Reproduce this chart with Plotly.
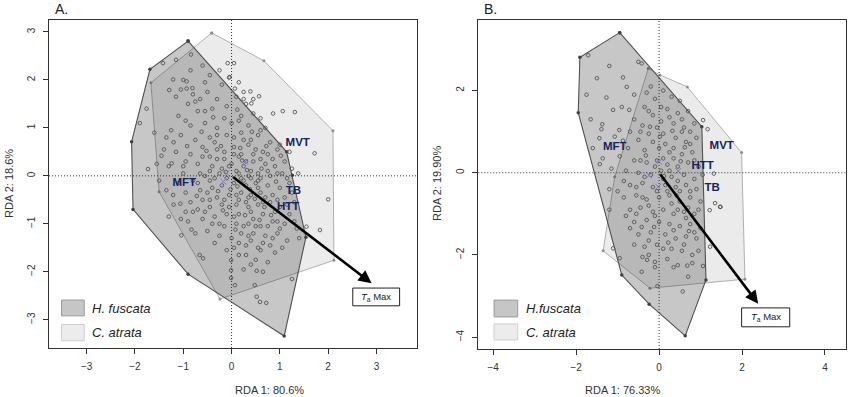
import plotly.graph_objects as go

# ---------------- DATA ----------------
# Panel A hulls (RDA1, RDA2)
hf_hull_a_x = [-0.90, -1.69, -2.07, -2.04, -0.90, 1.09, 1.54, 1.26, 1.14, -0.90]
hf_hull_a_y = [2.81, 2.22, 0.71, -0.70, -2.05, -3.34, -1.28, 0.01, 0.50, 2.81]
ca_hull_a_x = [-0.41, 0.67, 2.10, 2.12, -0.24, -1.50, -1.67, -0.41]
ca_hull_a_y = [2.98, 2.40, 0.94, -1.76, -2.57, -0.33, 1.94, 2.98]

# Panel B hulls
hf_hull_b_x = [-0.95, -1.91, -1.95, -0.90, -0.24, 0.63, 1.13, 1.03, -0.95]
hf_hull_b_y = [3.41, 2.81, 1.46, -2.49, -3.20, -3.97, -2.61, 1.12, 3.41]
ca_hull_b_x = [-0.26, 0.02, 0.68, 1.99, 2.07, -0.22, -1.35, -1.07, -0.26]
ca_hull_b_y = [2.54, 2.38, 2.09, 0.49, -2.59, -2.81, -1.90, -0.10, 2.54]

# Panel A individual scores
pts_a = [
    (-0.08, 2.35), (0.05, 2.35), (-0.04, 2.06), (0.07, 1.82), (0.39, 1.76), (0.57, 1.66),
    (0.41, 1.51), (0.86, 1.30), (1.06, 1.35), (1.31, 1.33), (1.72, 0.47), (1.38, 0.05),
    (2.0, -0.49), (1.55, -1.06), (1.83, -1.13), (0.52, -2.52), (0.59, -2.63), (0.72, -2.65),
    (1.25, -2.15), (0.52, -1.98), (0.48, -2.28), (-0.01, -1.76), (-0.01, -1.97), (-0.01, -2.13),
    (-1.04, -1.24), (-0.66, -1.65), (-0.59, -1.72), (0.07, -2.28), (-1.90, 1.10), (-1.76, 1.40),
    (-1.73, 0.14), (-1.42, 2.35), (-1.15, 2.42), (-0.84, 2.53), (-1.21, 2.01), (-1.29, 1.79),
    (-0.93, 1.97), (-0.93, 1.82), (-0.81, 1.83), (-1.45, 0.42), (-1.24, 0.26), (-1.21, -0.40),
    (-1.06, -0.58), (-0.83, -1.12),
    (-1.0, 2.0), (-0.6, 2.3), (-0.45, 2.1), (-0.2, 1.9), (-0.5, 1.75), (-0.3, 1.6), (-0.9, 1.5),
    (-0.7, 1.35), (-0.4, 1.4), (-0.1, 1.45), (0.1, 1.65), (0.3, 1.5), (0.45, 1.3), (0.6, 1.2),
    (0.2, 1.25), (-0.15, 1.2), (-0.55, 1.1), (-1.1, 1.25), (-0.85, 1.05), (-0.3, 1.0), (0.0, 1.1),
    (0.35, 1.05), (0.7, 1.0), (0.55, 0.85), (0.2, 0.9), (-0.1, 0.85), (-0.45, 0.8), (-0.75, 0.75),
    (-1.05, 0.85), (-1.25, 0.95), (-0.6, 0.6), (-0.3, 0.55), (0.05, 0.6), (0.35, 0.65), (0.8, 0.7),
    (0.95, 0.55), (0.65, 0.5), (0.15, 0.4), (-0.15, 0.35), (-0.45, 0.4), (-0.85, 0.45), (-1.15, 0.5),
    (-1.3, 0.2), (-1.0, 0.2), (-0.7, 0.25), (-0.4, 0.2), (-0.2, 0.15), (0.0, 0.25), (0.25, 0.2),
    (0.45, 0.3), (0.7, 0.25), (0.9, 0.2), (1.1, 0.3), (1.05, 0.05), (0.8, 0.0), (0.55, 0.05),
    (0.35, 0.0), (0.15, 0.05), (-0.1, -0.05), (-0.35, -0.05), (-0.55, 0.0), (-0.8, -0.1),
    (-1.1, -0.15), (-0.95, -0.35), (-0.65, -0.3), (-0.4, -0.25), (-0.2, -0.2), (0.05, -0.15),
    (0.3, -0.2), (0.5, -0.15), (0.75, -0.2), (1.0, -0.25), (1.2, -0.15), (1.1, -0.45), (0.85, -0.4),
    (0.6, -0.35), (0.4, -0.4), (0.2, -0.35), (-0.05, -0.4), (-0.3, -0.45), (-0.6, -0.5),
    (-0.85, -0.55), (-1.2, -0.6), (-0.95, -0.75), (-0.7, -0.7), (-0.45, -0.65), (-0.2, -0.6),
    (0.1, -0.6), (0.3, -0.55), (0.55, -0.6), (0.8, -0.55), (1.0, -0.65), (1.3, -0.55), (1.2, -0.8),
    (0.9, -0.75), (0.65, -0.8), (0.4, -0.75), (0.15, -0.8), (-0.1, -0.8), (-0.35, -0.85),
    (-0.6, -0.9), (-0.9, -0.95), (-0.4, -1.0), (-0.15, -1.05), (0.1, -1.0), (0.35, -1.0),
    (0.6, -1.05), (0.85, -0.95), (1.1, -1.0), (1.35, -1.1), (0.95, -1.2), (0.7, -1.25), (0.45, -1.2),
    (0.2, -1.2), (0.0, -1.3), (-0.25, -1.25), (-0.5, -1.15), (0.3, -1.45), (0.55, -1.5), (0.8, -1.45),
    (0.6, -1.55), (0.9, -1.6), (0.5, -1.75), (0.75, -1.8), (0.3, -1.65), (0.05, -1.5), (1.15, -1.35),
    (1.4, -1.3), (0.45, -0.9), (0.25, -0.1), (0.1, 0.1), (-0.05, 0.2), (0.2, -0.05), (0.4, 0.1),
    (0.6, -0.05), (0.3, 0.3), (-0.25, 0.05), (0.55, -0.25), (0.05, 0.45), (0.25, 0.75), (-0.35, 0.7),
    (0.5, 0.55), (0.85, 0.35), (-0.65, 0.05), (0.7, -0.45), (0.15, -0.5), (-0.5, -0.35), (1.25, 0.15),
    (-1.35, -0.3), (-1.4, 0.55), (-0.8, 1.7), (-0.05, 2.05),
    (0.12, -0.22), (-0.12, 0.08), (0.38, -0.28), (0.62, 0.15), (-0.28, -0.32), (0.48, -0.48),
    (0.18, 0.58), (-0.52, 0.52), (0.72, 0.62), (-0.72, -0.42), (0.92, -0.12), (0.28, -0.82),
    (-0.18, -0.72), (0.58, -0.92), (0.08, -1.12), (-0.38, 1.22), (0.12, 1.38), (-0.62, 0.92),
    (0.42, 0.92), (-0.92, 0.62), (1.02, 0.42), (-0.22, 0.62), (0.82, -0.82), (0.32, 0.12),
    (-0.02, -0.28), (0.22, 0.32), (-0.45, 0.1), (0.68, -0.65), (1.15, -0.6), (-1.0, 0.05),
    (-0.95, 1.15), (-0.75, 1.55), (-0.55, 1.95), (-0.25, 2.2), (0.15, 1.95), (0.25, 1.75),
    (-0.65, 1.6), (-1.15, 1.65), (-1.2, 0.7), (-1.35, 0.8), (-0.95, 0.3), (-0.6, 0.4),
    (-0.15, 0.5), (0.45, 0.45), (0.75, 0.45), (1.0, 0.65), (1.2, 0.5), (1.15, -0.05),
    (0.95, -0.5), (1.25, -0.35), (1.3, -0.95), (1.05, -1.5), (0.85, -1.3), (0.4, -1.35),
    (0.15, -1.4), (-0.1, -1.55), (-0.35, -1.4), (-0.75, -1.2), (-0.8, -0.75), (-1.05, -0.9),
    (-1.3, -0.85), (-1.5, -0.1), (-1.55, 0.25), (-1.6, 0.9), (-0.45, -0.5), (-0.05, -0.65),
    (0.35, -0.65), (0.65, -0.55), (0.5, -1.05), (0.25, -1.05), (-0.25, -1.0), (0.75, -1.05),
    (0.95, -0.95), (0.1, -0.4), (0.35, -0.45), (-0.15, -0.5), (0.05, 0.8), (0.4, 0.75),
    (-0.3, 0.85), (0.6, 0.95), (0.15, 1.15), (-0.55, 1.35), (0.25, 1.6), (0.45, 1.6),
    (-0.85, 2.2), (-1.05, 1.8), (0.55, -0.1), (0.75, 0.1), (0.95, 0.05), (-0.7, -0.15),
    (-0.3, 0.35), (0.6, 0.35), (0.4, -0.05), (0.2, 0.45), (-0.45, -0.1), (0.05, -0.85),
    (-0.55, -0.75), (0.35, -1.25), (0.65, -1.4), (1.0, -1.1), (0.15, -1.65), (0.4, -1.85),
    (0.65, -2.0), (0.25, -1.95),
]
pts_a_x = [p[0] for p in pts_a]
pts_a_y = [p[1] for p in pts_a]

# Panel B individual scores
pts_b = [
    (-1.71, 2.86), (-0.87, 2.32), (-0.78, 2.09), (-1.27, 1.83), (-1.11, 1.53), (-0.72, 1.53),
    (-1.65, 1.30), (-1.37, 1.18), (-1.39, 1.06), (-0.96, 1.04), (-1.44, 0.84), (-1.07, 0.88),
    (-0.87, 0.78), (-1.36, 0.35), (-1.43, 0.21), (-0.50, 2.70), (-0.42, 2.66),
    (-1.11, -1.84), (-0.95, -2.08), (-0.42, -2.41), (-0.10, -2.17), (-0.29, -2.12), (0.57, -2.89),
    (0.70, -2.53), (0.68, -2.26), (1.06, -2.27), (-0.04, -2.76), (1.23, -1.80), (1.35, -0.74),
    (1.48, -0.83), (1.06, 1.28), (1.17, 1.06), (1.32, -0.02), (1.22, -0.91), (1.47, -0.83),
    (-0.2, 2.1), (0.1, 2.0), (0.3, 1.85), (-0.1, 1.8), (0.5, 1.75), (-0.35, 1.6), (0.2, 1.55),
    (0.45, 1.45), (0.7, 1.5), (-0.15, 1.4), (0.05, 1.25), (0.35, 1.2), (0.6, 1.1), (0.85, 1.2),
    (-0.4, 1.15), (-0.6, 1.3), (-0.25, 0.95), (0.1, 0.95), (0.4, 0.85), (0.65, 0.75), (0.9, 0.85),
    (-0.5, 0.8), (-0.75, 0.6), (-0.35, 0.55), (0.0, 0.6), (0.25, 0.5), (0.55, 0.45), (0.8, 0.5),
    (-0.6, 0.3), (-0.3, 0.25), (-0.05, 0.3), (0.2, 0.2), (0.45, 0.15), (0.7, 0.25), (0.95, 0.15),
    (-0.8, 0.05), (-0.5, 0.0), (-0.2, -0.05), (0.05, 0.05), (0.3, -0.1), (0.6, -0.05), (0.85, -0.15),
    (1.05, -0.05), (-0.7, -0.3), (-0.4, -0.25), (-0.15, -0.35), (0.15, -0.3), (0.4, -0.35),
    (0.65, -0.3), (0.9, -0.4), (-0.85, -0.6), (-0.55, -0.55), (-0.3, -0.65), (0.0, -0.6),
    (0.25, -0.55), (0.5, -0.7), (0.75, -0.6), (1.0, -0.7), (-0.7, -0.9), (-0.45, -0.85),
    (-0.15, -0.95), (0.1, -0.9), (0.35, -1.0), (0.6, -0.95), (0.85, -1.0), (-0.6, -1.2),
    (-0.3, -1.15), (0.0, -1.2), (0.25, -1.25), (0.5, -1.3), (0.75, -1.25), (1.0, -1.35),
    (-0.5, -1.5), (-0.2, -1.45), (0.15, -1.5), (0.4, -1.6), (0.65, -1.55), (0.9, -1.6),
    (-0.35, -1.8), (-0.05, -1.75), (0.3, -1.85), (0.55, -1.9), (0.8, -2.0), (-0.4, -2.05),
    (-0.1, -2.3), (0.2, -2.1), (0.45, -2.25), (0.8, -2.2), (-0.55, -1.0), (0.1, -0.15),
    (-0.1, 0.15), (0.35, 0.35), (0.15, 0.7), (-0.45, 1.0), (-0.7, 1.0), (0.55, 1.0), (0.05, 1.6),
    (-0.3, 1.95), (0.25, 0.05), (-0.05, -0.45), (0.5, -0.45), (0.7, -0.85), (-0.25, -0.8),
    (0.3, -0.75), (-0.85, -0.2), (-0.95, 0.4), (-1.0, -0.45), (-1.15, 0.1),
    (0.12, -0.08), (-0.32, 0.42), (0.42, -0.55), (0.62, 0.62), (-0.12, -1.32), (0.22, -1.7),
    (0.72, -1.42), (-0.42, -1.32), (0.02, 0.88), (0.32, 1.02), (-0.22, 1.12), (0.52, 0.28),
    (-0.25, 1.5), (0.25, 1.35), (0.55, 1.3), (-0.05, 1.1), (0.75, 1.0), (-0.15, 0.75),
    (0.35, 0.6), (0.75, 0.7), (-0.45, 0.3), (0.1, 0.35), (0.85, 0.3), (-0.35, -0.1),
    (0.45, -0.2), (0.75, -0.45), (-0.55, -0.35), (0.2, -0.45), (0.95, -0.9), (-0.4, -0.6),
    (0.45, -0.9), (-0.1, -1.05), (0.65, -1.1), (-0.7, -1.35), (0.35, -1.4), (0.85, -1.45),
    (-0.25, -1.65), (0.1, -1.85), (0.6, -1.75), (-0.6, -1.75), (0.35, -2.3), (-0.25, -2.0),
    (0.95, -1.9), (-0.8, -1.05), (-1.2, -0.4), (-1.2, -0.9), (-1.6, 0.6), (-1.75, 1.9),
    (-1.5, 2.3), (-1.2, 2.6), (-0.6, 1.9), (-0.9, 1.6),
]
pts_b_x = [p[0] for p in pts_b]
pts_b_y = [p[1] for p in pts_b]

# Group centroids (blue crosses)
cent_a_x = [-0.10, 0.28, -0.17]
cent_a_y = [0.05, 0.29, -0.12]
cent_b_x = [0.00, -0.24, 0.46, -0.02]
cent_b_y = [0.27, -0.06, 0.04, -0.34]

# Response variable labels
labels = ["MVT", "MFT", "TB", "HTT"]
lab_a_x = [1.37, -0.98, 1.28, 1.17]
lab_a_y = [0.675, -0.15, -0.32, -0.65]
lab_b_x = [1.51, -1.07, 1.28, 1.05]
lab_b_y = [0.65, 0.63, -0.38, 0.15]

# Environmental arrow (Ta Max)
arrow_a = (2.90, -2.24)
arrow_b = (2.39, -3.19)

x_ticks_a = [-3, -2, -1, 0, 1, 2, 3]
y_ticks_a = [-3, -2, -1, 0, 1, 2, 3]
x_ticks_b = [-4, -2, 0, 2, 4]
y_ticks_b = [-4, -2, 0, 2]

# ---------------- FIGURE ----------------
FONT = "Liberation Sans, Arial, sans-serif"
DARK_FILL = "rgba(30,30,30,0.25)"
LIGHT_FILL = "#ebebeb"
LABEL_COL = "#16235e"

fig = go.Figure()

def add_panel(xa, ya, hf_x, hf_y, ca_x, ca_y, px, py, cx, cy):
    fig.add_trace(go.Scatter(x=ca_x, y=ca_y, xaxis=xa, yaxis=ya, mode="lines+markers",
                             fill="toself", fillcolor=LIGHT_FILL,
                             line=dict(color="#b0b0b0", width=1),
                             marker=dict(size=3, color="#909090"),
                             showlegend=False, hoverinfo="skip"))
    fig.add_trace(go.Scatter(x=hf_x, y=hf_y, xaxis=xa, yaxis=ya, mode="lines+markers",
                             fill="toself", fillcolor=DARK_FILL,
                             line=dict(color="#505050", width=1.1),
                             marker=dict(size=3.5, color="#404040"),
                             showlegend=False, hoverinfo="skip"))
    fig.add_trace(go.Scatter(x=px, y=py, xaxis=xa, yaxis=ya, mode="markers",
                             marker=dict(symbol="circle-open", size=3.6, color="#555555",
                                         line=dict(width=0.9)),
                             showlegend=False))
    fig.add_trace(go.Scatter(x=cx, y=cy, xaxis=xa, yaxis=ya, mode="markers",
                             marker=dict(symbol="x-thin-open", size=6, color="#7b7fc0",
                                         line=dict(width=1, color="#7b7fc0")),
                             showlegend=False))

add_panel("x", "y", hf_hull_a_x, hf_hull_a_y, ca_hull_a_x, ca_hull_a_y,
          pts_a_x, pts_a_y, cent_a_x, cent_a_y)
add_panel("x2", "y2", hf_hull_b_x, hf_hull_b_y, ca_hull_b_x, ca_hull_b_y,
          pts_b_x, pts_b_y, cent_b_x, cent_b_y)

# text labels
fig.add_trace(go.Scatter(x=lab_a_x, y=lab_a_y, xaxis="x", yaxis="y", mode="text", text=labels,
                         textfont=dict(family=FONT, size=11.5, color=LABEL_COL, weight="bold"),
                         showlegend=False))
fig.add_trace(go.Scatter(x=lab_b_x, y=lab_b_y, xaxis="x2", yaxis="y2", mode="text", text=labels,
                         textfont=dict(family=FONT, size=11.5, color=LABEL_COL, weight="bold"),
                         showlegend=False))

axis_common = dict(showgrid=False, zeroline=False, showline=True, mirror=True,
                   linecolor="#333333", linewidth=1.3, ticks="outside", ticklen=5,
                   tickcolor="#333333", tickfont=dict(family=FONT, size=10, color="#333333"),
                   ticklabelstandoff=4, automargin=False)

fig.update_layout(
    template="none",
    width=850, height=397, margin=dict(l=0, r=0, t=0, b=0, autoexpand=False),
    plot_bgcolor="white", paper_bgcolor="white",
    xaxis=dict(domain=[49/850, 417/850], range=[-3.78, 3.84], tickvals=x_ticks_a,
               anchor="y", **axis_common),
    yaxis=dict(domain=[1-348/397, 1-19.5/397], range=[-3.59, 3.26], tickvals=y_ticks_a,
               tickangle=-90, anchor="x", **axis_common),
    xaxis2=dict(domain=[478.3/850, 845.7/850], range=[-4.36, 4.50], tickvals=x_ticks_b,
                anchor="y2", **axis_common),
    yaxis2=dict(domain=[1-349/397, 1-19.5/397], range=[-4.29, 3.73], tickvals=y_ticks_b,
                tickangle=-90, anchor="x2", **axis_common),
)

shapes = []
for xr, yr in (("x", "y"), ("x2", "y2")):
    shapes.append(dict(type="line", xref=f"{xr} domain", x0=0, x1=1, yref=yr, y0=0, y1=0,
                       line=dict(color="#333333", width=1, dash="1px,2px"), layer="above"))
    shapes.append(dict(type="line", yref=f"{yr} domain", y0=0, y1=1, xref=xr, x0=0, x1=0,
                       line=dict(color="#333333", width=1, dash="1px,2px"), layer="above"))

# legend boxes (data coordinates of each panel)
shapes += [
    dict(type="rect", xref="x", yref="y", x0=-3.52, x1=-3.05, y0=-2.92, y1=-2.59,
         fillcolor="#c6c6c6", line=dict(color="#9a9a9a", width=1)),
    dict(type="rect", xref="x", yref="y", x0=-3.52, x1=-3.05, y0=-3.44, y1=-3.10,
         fillcolor="#ececec", line=dict(color="#cfcfcf", width=1)),
    dict(type="rect", xref="x2", yref="y2", x0=-3.98, x1=-3.41, y0=-3.51, y1=-3.10,
         fillcolor="#c6c6c6", line=dict(color="#9a9a9a", width=1)),
    dict(type="rect", xref="x2", yref="y2", x0=-3.98, x1=-3.41, y0=-4.07, y1=-3.68,
         fillcolor="#ececec", line=dict(color="#cfcfcf", width=1)),
    # Ta Max boxes
    dict(type="rect", xref="x", yref="y", x0=2.51, x1=3.48, y0=-2.71, y1=-2.34,
         fillcolor="white", line=dict(color="#222222", width=1)),
    dict(type="rect", xref="x2", yref="y2", x0=1.99, x1=3.15, y0=-3.75, y1=-3.29,
         fillcolor="white", line=dict(color="#222222", width=1)),
]
fig.update_layout(shapes=shapes)

ann = []
# arrows
for (tx, ty), xr, yr in ((arrow_a, "x", "y"), (arrow_b, "x2", "y2")):
    ann.append(dict(x=tx, y=ty, ax=0, ay=0, xref=xr, yref=yr, axref=xr, ayref=yr,
                    text="", showarrow=True, arrowhead=2, arrowsize=1.0, arrowwidth=2.6,
                    arrowcolor="black"))
ta_text = "<i>T</i><sub>a</sub> Max"
ann.append(dict(x=3.0, y=-2.53, xref="x", yref="y", text=ta_text, showarrow=False,
                font=dict(family=FONT, size=9.5, color="#222222")))
ann.append(dict(x=2.57, y=-3.52, xref="x2", yref="y2", text=ta_text, showarrow=False,
                font=dict(family=FONT, size=9.5, color="#222222")))
# legend text
leg_font = dict(family=FONT, size=13, color="#222222")
ann += [
    dict(x=-2.93, y=-2.76, xref="x", yref="y", text="<i>H. fuscata</i>", showarrow=False,
         xanchor="left", font=leg_font),
    dict(x=-2.93, y=-3.27, xref="x", yref="y", text="<i>C. atrata</i>", showarrow=False,
         xanchor="left", font=leg_font),
    dict(x=-3.26, y=-3.30, xref="x2", yref="y2", text="<i>H.fuscata</i>", showarrow=False,
         xanchor="left", font=leg_font),
    dict(x=-3.26, y=-3.89, xref="x2", yref="y2", text="<i>C. atrata</i>", showarrow=False,
         xanchor="left", font=leg_font),
]
# axis titles & panel labels (paper coords)
t_font = dict(family=FONT, size=11, color="#333333")
ann += [
    dict(x=233/850, y=1-390/397, xref="paper", yref="paper", text="RDA 1: 80.6%",
         showarrow=False, font=t_font, yanchor="middle"),
    dict(x=662/850, y=1-390/397, xref="paper", yref="paper", text="RDA 1: 76.33%",
         showarrow=False, font=t_font, yanchor="middle"),
    dict(x=9/850, y=1-184/397, xref="paper", yref="paper", text="RDA 2: 18.6%",
         showarrow=False, textangle=-90, font=t_font, xanchor="center"),
    dict(x=437/850, y=1-184/397, xref="paper", yref="paper", text="RDA 2: 19.90%",
         showarrow=False, textangle=-90, font=t_font, xanchor="center"),
    dict(x=53/850, y=1-9/397, xref="paper", yref="paper", text="A.", xanchor="left",
         yanchor="middle", showarrow=False, font=dict(family=FONT, size=14, color="#222222")),
    dict(x=482/850, y=1-9/397, xref="paper", yref="paper", text="B.", xanchor="left",
         yanchor="middle", showarrow=False, font=dict(family=FONT, size=14, color="#222222")),
]
fig.update_layout(annotations=ann)

fig.write_html(
    "out.html",
    config={"displayModeBar": False},
    post_script="document.body.style.margin='0';document.documentElement.style.overflow='hidden';",
)
